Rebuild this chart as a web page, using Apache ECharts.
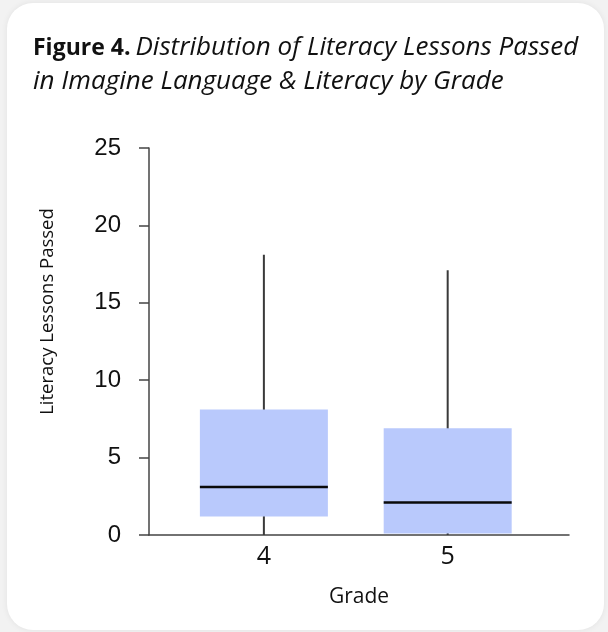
<!DOCTYPE html>
<html>
<head>
<meta charset="utf-8">
<script src="https://cdn.jsdelivr.net/npm/echarts@6/dist/echarts.min.js"></script>
<style>
  html, body { margin: 0; padding: 0; width: 608px; height: 632px; background: #f2f2f2; overflow: hidden; }
  #card { position: absolute; left: 7px; top: 3px; width: 597px; height: 627px; background: #ffffff; border-radius: 26px; box-shadow: 0 0 6px rgba(0,0,0,0.07); }
  #chart { position: absolute; left: 0; top: 0; width: 608px; height: 632px; }
</style>
</head>
<body>
<div id="card"></div>
<div id="chart"></div>
<script>
// Data
const grades   = [4, 5];
const mins     = [0, 0];
const q1s      = [1.2, 0.1];
const medians  = [3.1, 2.1];
const q3s      = [8.1, 6.9];
const maxs     = [18.1, 17.1];
const yTicks   = [0, 5, 10, 15, 20, 25];

const rows = grades.map((g, i) => [g, mins[i], q1s[i], medians[i], q3s[i], maxs[i]]);

const chart = echarts.init(document.getElementById('chart'), null, { renderer: 'canvas' });

const textColor = '#111111';
const axisColor = '#444444';
const font = 'Open Sans';

chart.setOption({
  backgroundColor: 'transparent',
  animation: false,
  title: {
    left: 28,
    top: 26,
    text: '{b|Figure 4.} {i|Distribution of Literacy Lessons Passed}\n{i|in Imagine Language & Literacy by Grade}',
    textStyle: {
      fontWeight: 'normal',
      rich: {
        b: { fontFamily: font, fontWeight: 'bold', fontSize: 23, color: textColor, lineHeight: 34 },
        i: { fontFamily: font, fontWeight: 'normal', fontStyle: 'italic', fontSize: 26, color: textColor, lineHeight: 34 }
      }
    }
  },
  grid: { left: 149, right: 39, top: 148, bottom: 97 },
  xAxis: {
    type: 'value',
    min: 3.375,
    max: 5.66,
    name: 'Grade',
    nameLocation: 'middle',
    nameGap: 52,
    nameTextStyle: { fontFamily: font, fontSize: 21, color: textColor },
    axisLine: { show: true, lineStyle: { color: axisColor, width: 1.5 } },
    axisTick: { show: false },
    splitLine: { show: false },
    axisLabel: {
      customValues: grades,
      margin: 9,
      fontFamily: font,
      fontSize: 25,
      color: textColor,
      formatter: v => String(v)
    }
  },
  yAxis: {
    type: 'value',
    min: yTicks[0],
    max: yTicks[yTicks.length - 1],
    interval: 5,
    name: 'Literacy Lessons Passed',
    nameLocation: 'middle',
    nameGap: 92,
    nameRotate: 90,
    nameTextStyle: { fontFamily: font, fontSize: 18.5, color: textColor, padding: [0, 0, 0, 60] },
    axisLine: { show: true, lineStyle: { color: axisColor, width: 1.5 } },
    axisTick: { show: true, inside: false, length: 10, lineStyle: { color: axisColor, width: 1.5 } },
    splitLine: { show: false },
    axisLabel: {
      margin: 28,
      fontFamily: 'Liberation Sans',
      fontSize: 24,
      color: textColor
    }
  },
  series: [{
    type: 'custom',
    data: rows,
    encode: { x: 0, y: [1, 2, 3, 4, 5] },
    renderItem: function (params, api) {
      const x = api.value(0);
      const pMin = api.coord([x, api.value(1)]);
      const pQ1 = api.coord([x, api.value(2)]);
      const pMed = api.coord([x, api.value(3)]);
      const pQ3 = api.coord([x, api.value(4)]);
      const pMax = api.coord([x, api.value(5)]);
      const half = 64;
      return {
        type: 'group',
        children: [
          { type: 'line', shape: { x1: pMin[0], y1: pMin[1], x2: pMax[0], y2: pMax[1] },
            style: { stroke: '#3a3a3a', lineWidth: 2 } },
          { type: 'rect', shape: { x: pQ3[0] - half, y: pQ3[1], width: half * 2, height: pQ1[1] - pQ3[1] },
            style: { fill: '#b9c9fc' } },
          { type: 'line', shape: { x1: pMed[0] - half, y1: pMed[1], x2: pMed[0] + half, y2: pMed[1] },
            style: { stroke: '#0a0a0a', lineWidth: 2.6 } }
        ]
      };
    }
  }]
});
</script>
</body>
</html>
